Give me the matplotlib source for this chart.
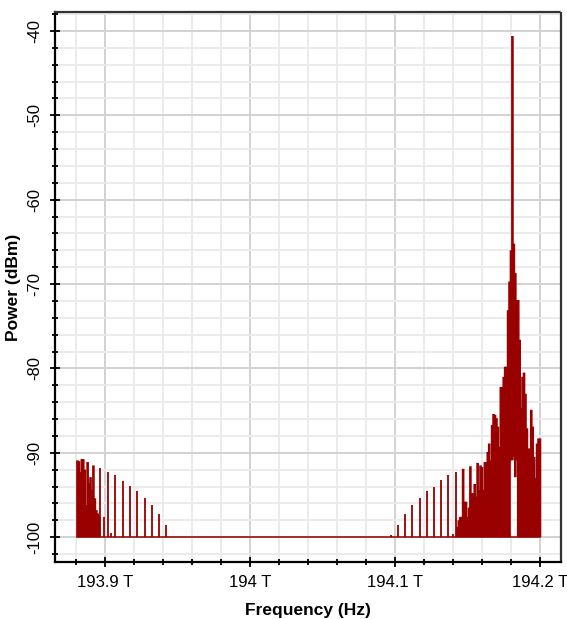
import matplotlib
matplotlib.use("Agg")
import matplotlib.pyplot as plt
from matplotlib.ticker import MultipleLocator, FuncFormatter

plt.rcParams['font.family'] = ['Liberation Sans', 'DejaVu Sans']
plt.rcParams['axes.unicode_minus'] = False

# spectrum (frequency in THz, power in dBm)
floor_dbm = -100.0

left_dense_thz = [193.881, 193.882, 193.883, 193.884, 193.885, 193.886, 193.887, 193.888,
                  193.889, 193.890, 193.891, 193.892, 193.893, 193.894, 193.895, 193.896]
left_dense_dbm = [-90.9, -91.0, -92.3, -90.75, -90.75, -92.0, -96.2, -91.1,
                  -93.6, -92.9, -94.4, -91.5, -95.4, -96.8, -97.2, -97.6]

left_lines_thz = [193.8966, 193.8993, 193.9024, 193.9039, 193.9072, 193.9124,
                  193.9172, 193.9221, 193.9276, 193.9324, 193.9372, 193.9421]
left_lines_dbm = [-91.85, -97.6, -92.25, -99.5, -92.65, -93.3,
                  -93.9, -94.55, -95.4, -96.25, -97.3, -98.6]

right_lines_thz = [194.0970, 194.1023, 194.1069, 194.1115, 194.1172, 194.1219,
                   194.1271, 194.1317, 194.1363, 194.1398, 194.1419]
right_lines_dbm = [-99.8, -98.6, -97.3, -96.2, -95.4, -94.5,
                   -94.0, -93.2, -92.6, -99.6, -92.25]

right_dense_thz = [194.143, 194.144, 194.145, 194.146, 194.147, 194.148, 194.149, 194.150,
                   194.151, 194.152, 194.153, 194.154, 194.155, 194.156, 194.157, 194.158,
                   194.159, 194.160, 194.161, 194.162, 194.163, 194.164, 194.165, 194.166,
                   194.167, 194.168, 194.169, 194.170, 194.171, 194.172, 194.173, 194.174,
                   194.175, 194.176, 194.177, 194.178, 194.179, 194.180, 194.181, 194.182,
                   194.183, 194.184, 194.185, 194.186, 194.187, 194.188, 194.189, 194.190,
                   194.191, 194.192, 194.193, 194.194, 194.195, 194.196, 194.197, 194.198,
                   194.199, 194.200]
right_dense_top = [-98.8, -98.0, -97.6, -97.6, -91.9, -95.8, -95.8, -97.6,
                   -96.5, -91.6, -94.8, -94.8, -93.7, -95.2, -91.2, -94.4,
                   -91.5, -91.7, -94.4, -91.1, -91.1, -89.9, -88.9, -90.9,
                   -86.7, -85.4, -85.5, -85.9, -86.9, -89.3, -82.2, -82.2,
                   -81.0, -79.8, -79.8, -73.1, -69.7, -66.0, -40.6, -65.2,
                   -68.7, -71.9, -71.9, -76.6, -84.7, -81.0, -80.5, -83.0,
                   -87.1, -89.5, -89.5, -84.9, -86.9, -90.5, -93.0, -88.9,
                   -88.3, -88.3]
# around the main peak the trace never drops to the floor
right_dense_bottom = [-100.0] * 37 + [-90.9, -90.9, -90.5, -92.9, -90.9] + [-100.0] * 16

red = '#990000'

fig = plt.figure(figsize=(5.67, 6.19), dpi=100)
ax = fig.add_axes([55 / 567, 1 - 562 / 619, 506 / 567, 550 / 619])

ax.plot([left_dense_thz[0], right_dense_thz[-1]], [floor_dbm, floor_dbm],
        color=red, lw=1.1, zorder=3)
ax.vlines(left_dense_thz, floor_dbm, left_dense_dbm, color=red, lw=1.9, zorder=3, snap=False)
ax.vlines(left_lines_thz, floor_dbm, left_lines_dbm, color=red, lw=1.3, zorder=3)
ax.vlines(right_lines_thz, floor_dbm, right_lines_dbm, color=red, lw=1.3, zorder=3)
ax.vlines(right_dense_thz, right_dense_bottom, right_dense_top, color=red, lw=1.9,
          zorder=3, snap=False)

ax.set_xlim(193.8655, 194.2145)
ax.set_ylim(-102.95, -37.75)

ax.xaxis.set_major_locator(MultipleLocator(0.1))
ax.xaxis.set_minor_locator(MultipleLocator(0.02))
ax.yaxis.set_major_locator(MultipleLocator(10))
ax.yaxis.set_minor_locator(MultipleLocator(2))
ax.xaxis.set_major_formatter(FuncFormatter(lambda v, p: f"{round(v, 3):g} T"))
ax.yaxis.set_major_formatter(FuncFormatter(lambda v, p: f"{v:.0f}"))

ax.grid(which='major', color='#d2d2d2', lw=1.4, zorder=0)
ax.grid(which='minor', color='#ebebeb', lw=1.4, zorder=0)
ax.set_axisbelow(True)

for s in ['left', 'bottom']:
    ax.spines[s].set_linewidth(1.6)
    ax.spines[s].set_color('black')
for s in ['top', 'right']:
    ax.spines[s].set_linewidth(1.6)
    ax.spines[s].set_linestyle((0, (1, 1)))
    ax.spines[s].set_color('#333333')

ax.tick_params(which='major', direction='inout', length=7, width=1.3, labelsize=12, pad=6)
ax.tick_params(which='minor', direction='inout', length=4.5, width=1.3)
ax.tick_params(axis='x', which='both', top=False)
ax.tick_params(axis='y', which='both', right=False)
for lab in ax.get_yticklabels():
    lab.set_rotation(90)
    lab.set_va('center')

ax.set_xlabel('Frequency (Hz)', fontsize=12.5, fontweight='bold', labelpad=9)
ax.set_ylabel('Power (dBm)', fontsize=12.5, fontweight='bold', labelpad=4)

fig.savefig('out.png', dpi=100)
